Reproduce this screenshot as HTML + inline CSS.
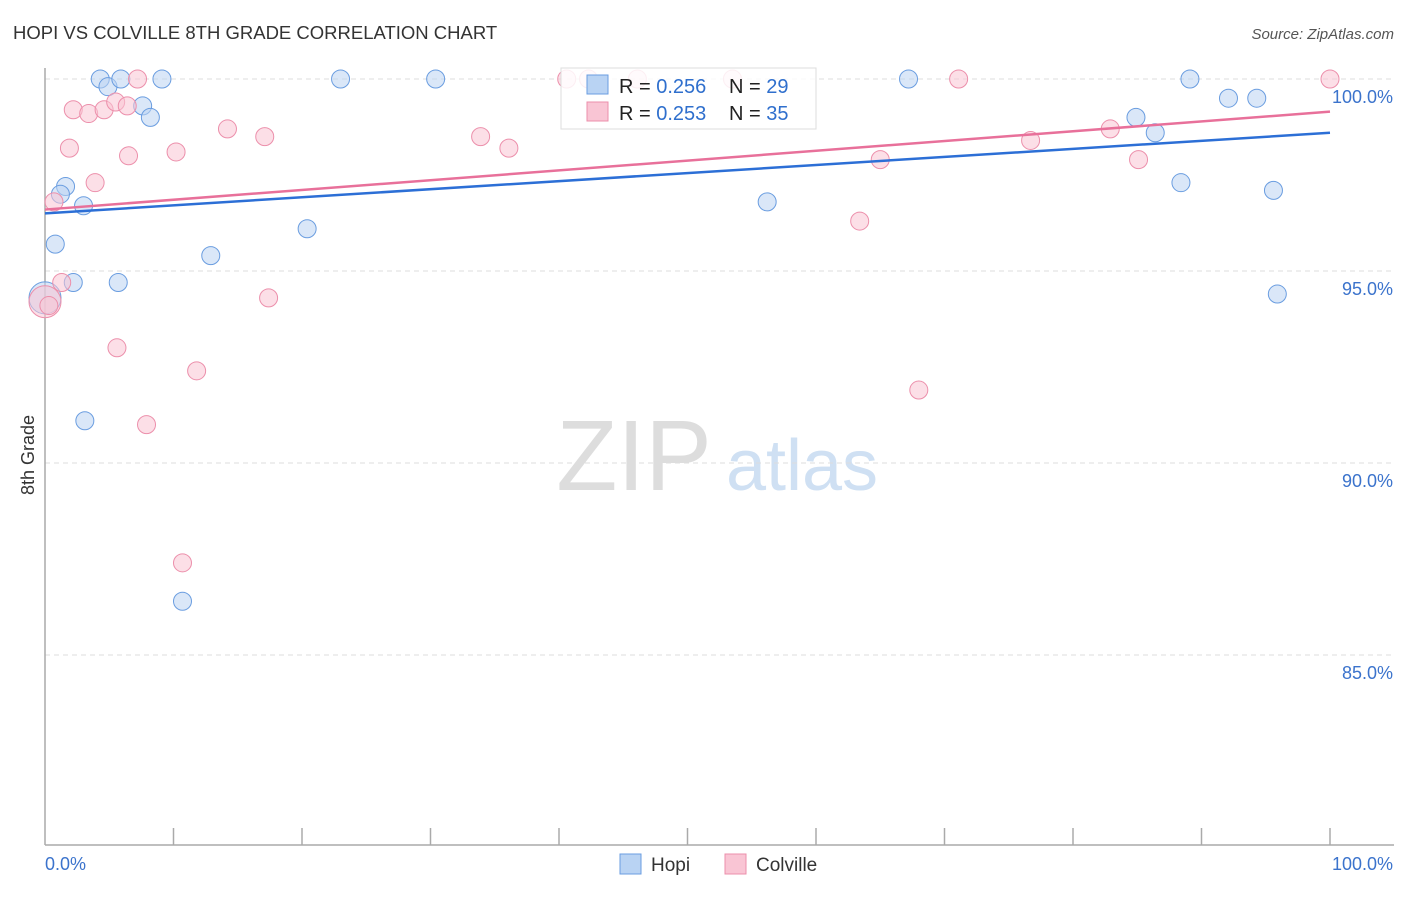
<!DOCTYPE html>
<html><head><meta charset="utf-8"><style>
body{margin:0;background:#fff;font-family:"Liberation Sans",sans-serif;}
svg text{font-family:"Liberation Sans",sans-serif;}
</style></head><body>
<svg id="chart" width="1406" height="892" xmlns="http://www.w3.org/2000/svg">
<text x="13" y="39" font-size="18.5" fill="#333">HOPI VS COLVILLE 8TH GRADE CORRELATION CHART</text>
<text x="1394" y="39" font-size="15" fill="#555" font-style="italic" text-anchor="end">Source: ZipAtlas.com</text>
<text x="634" y="490" font-size="100" fill="#ddd" font-family="Liberation Serif" text-anchor="middle">ZIP</text>
<text x="802" y="490" font-size="72" fill="#cfe0f3" text-anchor="middle">atlas</text>
<text x="34" y="455" font-size="18" fill="#333" text-anchor="middle" transform="rotate(-90 34 455)">8th Grade</text>
<g id="grid"></g><g id="axes"></g><g id="pts"></g><g id="lines"></g>
<g>
<rect x="561" y="68" width="255" height="61" fill="#fff" fill-opacity="0.85" stroke="#ddd"/>
<rect x="587" y="75" width="21" height="19" fill="#b9d3f3" stroke="#6a9de0"/>
<rect x="587" y="102" width="21" height="19" fill="#f9c5d4" stroke="#ec8fab"/>
<text x="619" y="93" font-size="20" fill="#222">R = <tspan fill="#2f6fcd">0.256</tspan></text>
<text x="729" y="93" font-size="20" fill="#222">N = <tspan fill="#2f6fcd">29</tspan></text>
<text x="619" y="120" font-size="20" fill="#222">R = <tspan fill="#2f6fcd">0.253</tspan></text>
<text x="729" y="120" font-size="20" fill="#222">N = <tspan fill="#2f6fcd">35</tspan></text>
</g>
<g>
<rect x="620" y="854" width="21" height="20" fill="#b9d3f3" stroke="#6a9de0"/>
<text x="651" y="871" font-size="19" fill="#333">Hopi</text>
<rect x="725" y="854" width="21" height="20" fill="#f9c5d4" stroke="#ec8fab"/>
<text x="756" y="871" font-size="19" fill="#333">Colville</text>
</g>
</svg>
<script>
const hopiX=[4.3,4.9,5.9,9.1,7.6,8.2,1.6,1.2,3.0,0.8,2.2,5.7,12.9,20.4,3.1,10.7,23.0,30.4,56.2,67.2,84.9,86.4,88.4,89.1,92.1,94.3,95.6,95.9,0];
const hopiY=[100,99.8,100,100,99.3,99.0,97.2,97.0,96.7,95.7,94.7,94.7,95.4,96.1,91.1,86.4,100,100,96.8,100,99.0,98.6,97.3,100,99.5,99.5,97.1,94.4,94.3];
const colX=[2.2,3.4,4.6,5.5,6.4,1.9,6.5,3.9,0.7,7.2,10.2,14.2,17.1,1.3,17.4,5.6,11.8,7.9,10.7,33.9,36.1,40.6,42.3,46.1,53.5,63.4,65.0,68.0,71.1,76.7,82.9,85.1,100,0,0.3];
const colY=[99.2,99.1,99.2,99.4,99.3,98.2,98.0,97.3,96.8,100,98.1,98.7,98.5,94.7,94.3,93.0,92.4,91.0,87.4,98.5,98.2,100,100,100,100,96.3,97.9,91.9,100,98.4,98.7,97.9,100,94.2,94.1];
const trendHopi=[96.5,98.6];
const trendCol=[96.6,99.15];
const yTicks=[100,95,90,85];
const xTickLabels=["0.0%","100.0%"];
const NS="http://www.w3.org/2000/svg";
const X=v=>45+v*12.85, Y=v=>79+(100-v)*38.4;
function mk(t,a,p){const e=document.createElementNS(NS,t);for(const k in a)e.setAttribute(k,a[k]);const par=document.getElementById(p);par.appendChild(e);return e;}
yTicks.forEach(t=>{
 const l=mk('line',{x1:45,x2:1394,y1:Y(t),y2:Y(t),stroke:'#ddd','stroke-dasharray':'5,4'},'grid');
 
 
 const tx=mk('text',{x:1393,y:Y(t)+24,'font-size':18,fill:'#3b73cc','text-anchor':'end'},'axes');
 tx.textContent=t.toFixed(1)+'%';
 
 
});
let a=mk('line',{x1:45,x2:45,y1:68,y2:845,stroke:'#aaa','stroke-width':1.5},'axes');


a=mk('line',{x1:45,x2:1394,y1:845,y2:845,stroke:'#aaa','stroke-width':1.5},'axes');


for(let i=1;i<=10;i++){const tk=mk('line',{x1:X(i*10),x2:X(i*10),y1:828,y2:845,stroke:'#aaa','stroke-width':1.5},'axes');
 
 }
let t0=mk('text',{x:45,y:870,'font-size':18,fill:'#3b73cc'},'axes');t0.textContent=xTickLabels[0];


let t1=mk('text',{x:1393,y:870,'font-size':18,fill:'#3b73cc','text-anchor':'end'},'axes');t1.textContent=xTickLabels[1];


function pts(xs,ys,f,s,name){xs.forEach((x,i)=>{const big=(x===0);const c=mk('circle',{cx:X(x),cy:Y(ys[i]),r:big?16:9,fill:f,'fill-opacity':0.55,stroke:s,'stroke-width':1},'pts');
 
 });}
pts(hopiX,hopiY,'#bcd4f3','#6a9de0','hopi-point');
pts(colX,colY,'#f9c5d4','#ec8fab','colville-point');
let l1=mk('line',{x1:X(0),y1:Y(trendHopi[0]),x2:X(100),y2:Y(trendHopi[1]),stroke:'#2c6fd6','stroke-width':2.5},'lines');


let l2=mk('line',{x1:X(0),y1:Y(trendCol[0]),x2:X(100),y2:Y(trendCol[1]),stroke:'#e8709a','stroke-width':2.5},'lines');


</script>
</body></html>
